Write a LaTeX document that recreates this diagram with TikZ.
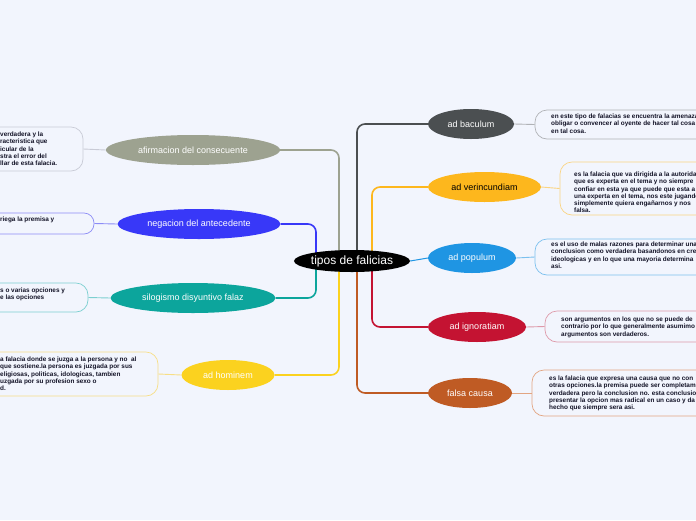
\documentclass[tikz,border=0pt]{standalone}
\usepackage{fontspec}
\setmainfont{Liberation Sans}
\usetikzlibrary{shapes.geometric}
\pgfdeclarelayer{back}\pgfdeclarelayer{lines}\pgfsetlayers{back,lines,main}
\definecolor{bgc}{HTML}{F2F5FD}
\definecolor{txt}{HTML}{141428}
\definecolor{cAf}{HTML}{9DA290}\definecolor{bAf}{HTML}{C9CBD6}
\definecolor{cNe}{HTML}{3838F8}\definecolor{bNe}{HTML}{8C8CF6}
\definecolor{cSi}{HTML}{0CA59C}\definecolor{bSi}{HTML}{7CCFD0}
\definecolor{cHo}{HTML}{FBD21F}\definecolor{bHo}{HTML}{F7DE86}
\definecolor{cBa}{HTML}{4B4F51}\definecolor{bBa}{HTML}{B0B2B6}
\definecolor{cVe}{HTML}{FDB71D}\definecolor{bVe}{HTML}{FAD483}
\definecolor{cPo}{HTML}{1F95E3}\definecolor{bPo}{HTML}{7BC0EE}
\definecolor{cIg}{HTML}{C41332}\definecolor{bIg}{HTML}{DE9AAA}
\definecolor{cFa}{HTML}{BF5B24}\definecolor{bFa}{HTML}{E2A582}
\tikzset{
  topic/.style={ellipse, inner sep=0pt, font=\fontsize{9}{10}\selectfont, text=white},
  rootnode/.style={ellipse, inner sep=0pt, fill=black, text=white, font=\fontsize{12}{13}\selectfont, minimum width=115pt, minimum height=22pt},
  descbox/.style={rectangle, rounded corners=12pt, line width=0.7pt, fill=bgc, inner sep=0pt},
  desc/.style={align=left, font=\fontsize{6.4}{7.1}\bfseries\selectfont, inner sep=0pt, anchor=north west, text=txt},
  trunk/.style={line width=1.6pt, rounded corners=8pt},
  twig/.style={line width=0.9pt}
}
\begin{document}
\begin{tikzpicture}[x=1pt,y=-1pt]
\useasboundingbox (0,0) rectangle (696,520);
\clip (0,0) rectangle (696,520);
\begin{pgfonlayer}{back}
\fill[bgc] (0,0) rectangle (696,520);
\end{pgfonlayer}

% root
\node[rootnode] (root) at (352,261) {tipos de falicias};

% left topics
\node[topic, fill=cAf, minimum width=174pt, minimum height=30pt] (afi) at (193,150) {afirmacion del consecuente};
\node[topic, fill=cNe, minimum width=163pt, minimum height=30pt] (neg) at (199,224) {negacion del antecedente};
\node[topic, fill=cSi, minimum width=165pt, minimum height=30pt] (sil) at (193,298) {silogismo disyuntivo falaz};
\node[topic, fill=cHo, minimum width=93pt, minimum height=30pt] (hom) at (228,375) {ad hominem};

% right topics
\node[topic, fill=cBa, minimum width=86pt, minimum height=30pt] (bac) at (471,124) {ad baculum};
\node[topic, fill=cVe, minimum width=113pt, minimum height=30pt, text=black] (ver) at (484.5,187) {ad verincundiam};
\node[topic, fill=cPo, minimum width=88pt, minimum height=30pt] (pop) at (472,258) {ad populum};
\node[topic, fill=cIg, minimum width=98pt, minimum height=30pt] (ign) at (477,327) {ad ignoratiam};
\node[topic, fill=cFa, minimum width=84pt, minimum height=30pt] (fal) at (470,393) {falsa causa};

% description boxes
\node[descbox, draw=bAf, minimum width=123pt, minimum height=44pt] (afib) at (21.5,149) {};
\node[descbox, rounded corners=10pt, draw=bNe, minimum width=134pt, minimum height=21pt] (negb) at (27,223.5) {};
\node[descbox, draw=bSi, minimum width=128pt, minimum height=29pt] (silb) at (24,297.5) {};
\node[descbox, draw=bHo, minimum width=198pt, minimum height=44pt] (homb) at (59,374) {};
\node[descbox, draw=bBa, minimum width=205pt, minimum height=29pt] (bacb) at (637.5,124.5) {};
\node[descbox, draw=bVe, minimum width=180pt, minimum height=53pt] (verb) at (650,188.5) {};
\node[descbox, draw=bPo, minimum width=205pt, minimum height=36pt] (popb) at (637.5,257) {};
\node[descbox, draw=bIg, minimum width=195pt, minimum height=31pt] (ignb) at (642.5,326.5) {};
\node[descbox, draw=bFa, minimum width=208pt, minimum height=46pt] (falb) at (636,393) {};

% texts
\node[desc] (afit) at (0,132) {verdadera y la\\racteristica que\\icular de la\\stra el error del\\llar de esta falacia.};
\node[desc] (negt) at (0,217) {riega la premisa y};
\node[desc] (silt) at (0,288) {s o varias opciones y\\e las opciones};
\node[desc] (homt) at (0,357) {a falacia donde se juzga a la persona y no \ al\\que sostiene.la persona es juzgada por sus\\eligiosas, politicas, idologicas, tambien\\uzgada por su profesion sexo o\\d.};
\node[desc] (bact) at (551,114) {en este tipo de falacias se encuentra la amenaza\\obligar o convencer al oyente de hacer tal cosa\\en tal cosa.};
\node[desc] (vert) at (574,172) {es la falacia que va dirigida a la autoridad\\que es experta en el tema y no siempre\\confiar en esta ya que puede que esta a\\una experta en el tema, nos este jugando\\simplemente quiera engañarnos y nos\\falsa.};
\node[desc] (popt) at (551,242) {es el uso de malas razones para determinar una\\conclusion como verdadera basandonos en cre\\ideologicas y en lo que una mayoria determina\\asi.};
\node[desc] (ignt) at (561,317) {son argumentos en los que no se puede de\\contrario por lo que generalmente asumimo\\argumentos son verdaderos.};
\node[desc] (falt) at (549,376) {es la falacia que expresa una causa que no con\\otras opciones.la premisa puede ser completam\\verdadera pero la conclusion no. esta conclusio\\presentar la opcion mas radical en un caso y da\\hecho que siempre sera asi.};

% trunk coordinates
\coordinate (xA) at (339,261);
\coordinate (xN) at (316,261);
\coordinate (xB) at (357,261);
\coordinate (xV) at (372,261);

\begin{pgfonlayer}{lines}
\draw[trunk, cAf] (afi.east) -| (xA);
\draw[trunk, cNe] (neg.east) -| (xN);
\draw[trunk, cSi] (sil.east) -| (xN);
\draw[trunk, cHo] (hom.east) -| (xA);
\draw[trunk, cBa] (bac.west) -| (xB);
\draw[trunk, cVe] (ver.west) -| (xV);
\draw[trunk, cPo, line width=1pt] (root.east) -- (pop.west);
\draw[trunk, cIg] (ign.west) -| (xV);
\draw[trunk, cFa] (fal.west) -| (xB);
\draw[twig, bAf] (afi.west) -- (afib.east);
\draw[twig, bNe] (neg.west) -- (negb.east);
\draw[twig, bSi] (sil.west) -- (silb.east);
\draw[twig, bHo] (hom.west) -- (homb.east);
\draw[twig, bBa] (bac.east) -- (bacb.west);
\draw[twig, bVe] (ver.east) -- (verb.west);
\draw[twig, bPo] (pop.east) -- (popb.west);
\draw[twig, bIg] (ign.east) -- (ignb.west);
\draw[twig, bFa] (fal.east) -- (falb.west);
\end{pgfonlayer}
\end{tikzpicture}
\end{document}
